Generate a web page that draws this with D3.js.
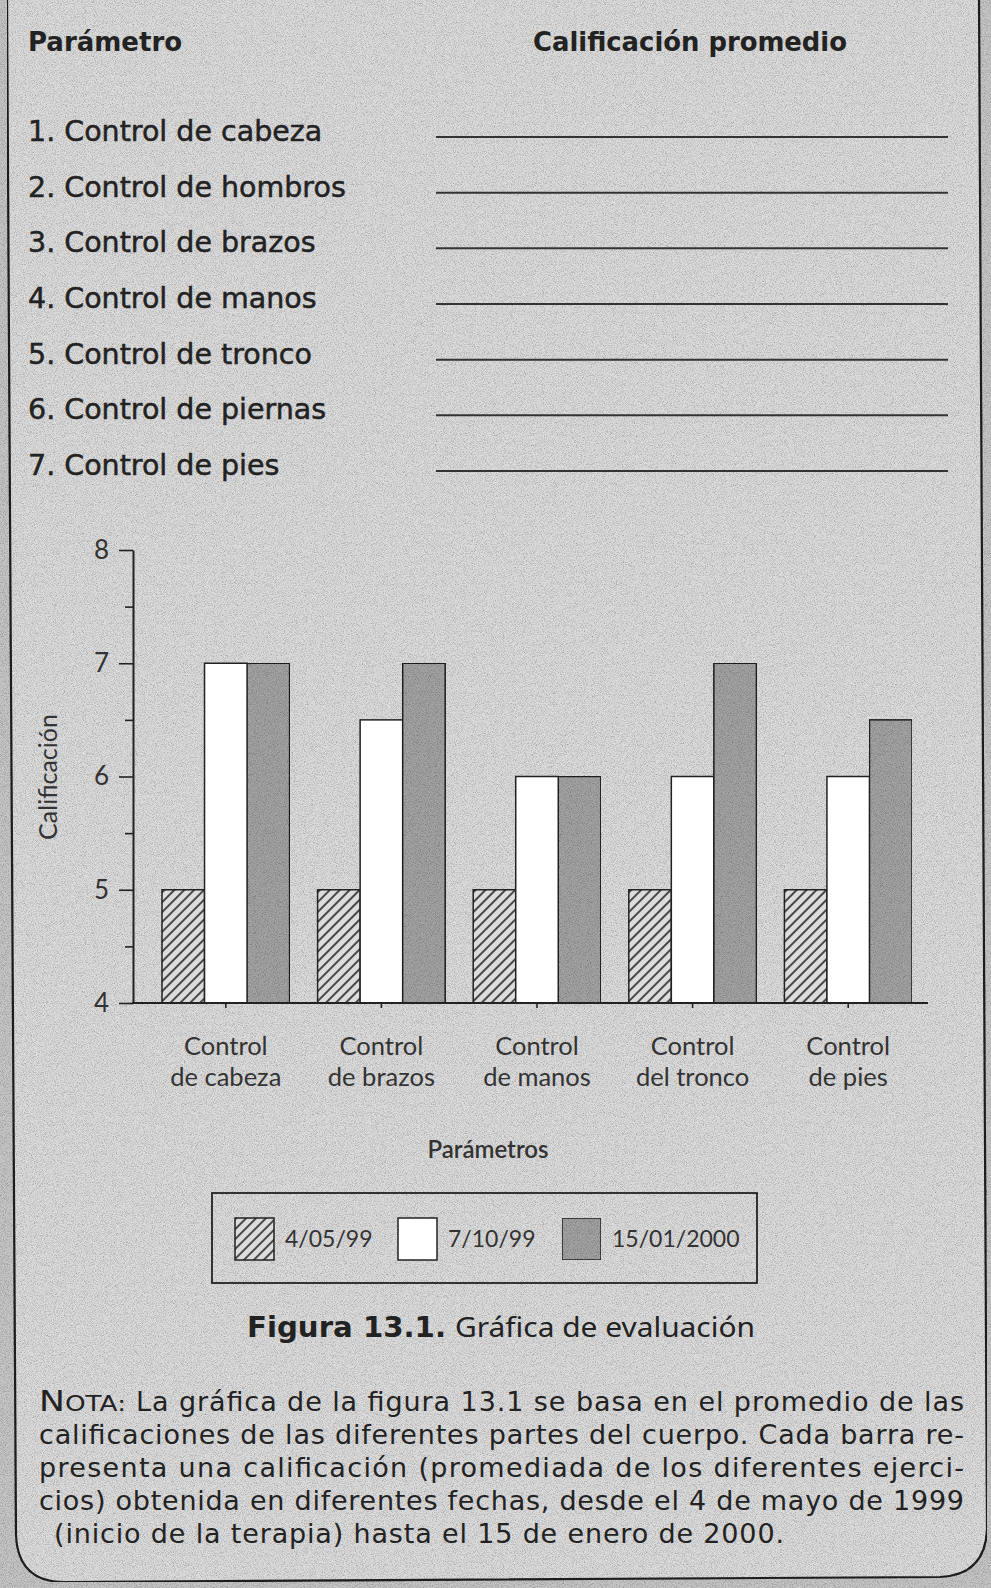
<!DOCTYPE html>
<html>
<head>
<meta charset="utf-8">
<script src="https://cdn.jsdelivr.net/npm/d3@7"></script>
<style>
  html, body { margin: 0; padding: 0; background: #cbcbcb; }
  svg { display: block; }
</style>
</head>
<body>
<svg id="chart" width="991" height="1588"></svg>
<script>
// data
const params = [
  "1. Control de cabeza",
  "2. Control de hombros",
  "3. Control de brazos",
  "4. Control de manos",
  "5. Control de tronco",
  "6. Control de piernas",
  "7. Control de pies"
];
const categories = ["Control de cabeza", "Control de brazos", "Control de manos", "Control del tronco", "Control de pies"];
const series = ["4/05/99", "7/10/99", "15/01/2000"];
const may99 = [5, 5, 5, 5, 5];
const oct99 = [7, 6.5, 6, 6, 6];
const jan00 = [7, 7, 6, 7, 6.5];
const yTicks = [4, 5, 6, 7, 8];
const yMinor = [4.5, 5.5, 6.5, 7.5];
const notaLines = [
  "La gráfica de la figura 13.1 se basa en el promedio de las",
  "calificaciones de las diferentes partes del cuerpo. Cada barra re-",
  "presenta una calificación (promediada de los diferentes ejerci-",
  "cios) obtenida en diferentes fechas, desde el 4 de mayo de 1999",
  "(inicio de la terapia) hasta el 15 de enero de 2000."
];
// where each note line starts and how wide it runs (justified block)
const notaX = [136, 39, 39, 39, 54];
const notaW = [828, 925, 925, 925, 730];

const ink = '#222';
const paper = '#dcdcdc';
const comic = "'DejaVu Sans', sans-serif";
const gill = "Lato, 'Open Sans', sans-serif";

const svg = d3.select('#chart');
const defs = svg.append('defs');

// paper grain
const grain = defs.append('filter').attr('id', 'grain')
  .attr('x', 0).attr('y', 0).attr('width', '100%').attr('height', '100%');
grain.append('feTurbulence').attr('type', 'fractalNoise')
  .attr('baseFrequency', 1.1).attr('numOctaves', 2).attr('seed', 7).attr('result', 't');
grain.append('feColorMatrix').attr('in', 't').attr('type', 'matrix')
  .attr('values', '0 0 0 0 0  0 0 0 0 0  0 0 0 0 0  1.1 0 0 0 -0.45').attr('result', 'n');
grain.append('feComposite').attr('in', 'n').attr('in2', 'SourceGraphic')
  .attr('operator', 'in').attr('result', 'nc');
const merge = grain.append('feMerge');
merge.append('feMergeNode').attr('in', 'SourceGraphic');
merge.append('feMergeNode').attr('in', 'nc');

// hatch for the first date
const hatch = defs.append('pattern').attr('id', 'hatch')
  .attr('patternUnits', 'userSpaceOnUse')
  .attr('width', 7).attr('height', 7)
  .attr('patternTransform', 'rotate(45)');
hatch.append('rect').attr('width', 7).attr('height', 7).attr('fill', paper);
hatch.append('line').attr('x1', 1).attr('x2', 1).attr('y1', 0).attr('y2', 7)
  .attr('stroke', ink).attr('stroke-width', 1.6);

const fills = { '4/05/99': 'url(#hatch)', '7/10/99': '#ffffff', '15/01/2000': '#a3a3a3' };

// page + frame
svg.append('rect').attr('width', 991).attr('height', 1588).attr('fill', '#c6c6c6')
  .attr('filter', 'url(#grain)');
svg.append('path')
  .attr('d', 'M7,-2 L16,1535 Q18,1582 64,1582 L940,1577 Q985,1575 987,1530 L979,-2')
  .attr('fill', paper)
  .attr('filter', 'url(#grain)')
  .attr('stroke', ink).attr('stroke-width', 2.2);

// header table
svg.append('text').attr('x', 28).attr('y', 51)
  .attr('font-family', comic).attr('font-weight', 'bold').attr('font-size', 26)
  .attr('fill', ink).text('Parámetro');
svg.append('text').attr('x', 533).attr('y', 51)
  .attr('font-family', comic).attr('font-weight', 'bold').attr('font-size', 26)
  .attr('textLength', 314).attr('lengthAdjust', 'spacingAndGlyphs')
  .attr('fill', ink).text('Calificación promedio');

const rowY = d3.scaleLinear().domain([0, 6]).range([141, 475]);
svg.append('g').selectAll('text').data(params).join('text')
  .attr('x', 28).attr('y', (d, i) => rowY(i))
  .attr('font-family', comic).attr('font-size', 28.5).attr('fill', ink)
  .attr('stroke', ink).attr('stroke-width', 0.5)
  .text(d => d);
svg.append('g').selectAll('line').data(params).join('line')
  .attr('x1', 436).attr('x2', 948)
  .attr('y1', (d, i) => rowY(i) - 4).attr('y2', (d, i) => rowY(i) - 4)
  .attr('stroke', '#333').attr('stroke-width', 2);

// chart
const y = d3.scaleLinear().domain([4, 8]).range([1003, 550]);
const x = d3.scaleBand().domain(categories).range([148, 926])
  .paddingInner(0.18).paddingOuter(0.09);
const xs = d3.scaleBand().domain(series).range([0, x.bandwidth()]);

const rows = categories.map((c, i) => ({
  cat: c,
  vals: [
    { s: series[0], v: may99[i] },
    { s: series[1], v: oct99[i] },
    { s: series[2], v: jan00[i] }
  ]
}));

const groups = svg.append('g').selectAll('g').data(rows).join('g')
  .attr('transform', d => `translate(${x(d.cat)},0)`);
groups.selectAll('rect').data(d => d.vals).join('rect')
  .attr('x', d => xs(d.s))
  .attr('y', d => y(d.v))
  .attr('width', xs.bandwidth())
  .attr('height', d => y(4) - y(d.v))
  .attr('fill', d => fills[d.s])
  .attr('filter', d => d.s === '15/01/2000' ? 'url(#grain)' : null)
  .attr('stroke', ink).attr('stroke-width', 1.5);

// y axis
const yAxis = svg.append('g').attr('transform', 'translate(133,0)')
  .call(d3.axisLeft(y).tickValues(yTicks).tickFormat(d3.format('d'))
    .tickSize(14).tickPadding(10).tickSizeOuter(0));
yAxis.select('.domain').attr('stroke', ink).attr('stroke-width', 2);
yAxis.selectAll('.tick line').attr('stroke', ink).attr('stroke-width', 1.6);
yAxis.selectAll('.tick text').attr('font-family', gill).attr('font-size', 26).attr('fill', '#333');
svg.append('g').attr('transform', 'translate(133,0)')
  .call(d3.axisLeft(y).tickValues(yMinor).tickFormat('').tickSize(8).tickSizeOuter(0))
  .call(g => g.select('.domain').remove())
  .selectAll('.tick line').attr('stroke', ink).attr('stroke-width', 1.6);

// x axis
const xAxis = svg.append('g').attr('transform', `translate(0,${y(4)})`)
  .call(d3.axisBottom(x).tickSize(5).tickFormat(''));
xAxis.select('.domain').remove();
xAxis.selectAll('.tick line').attr('stroke', ink).attr('stroke-width', 1.6);
svg.append('line').attr('x1', 132).attr('x2', 928)
  .attr('y1', y(4)).attr('y2', y(4))
  .attr('stroke', ink).attr('stroke-width', 2);

const xLabels = svg.append('g').selectAll('text').data(categories).join('text')
  .attr('x', d => x(d) + x.bandwidth() / 2)
  .attr('text-anchor', 'middle')
  .attr('font-family', gill).attr('font-size', 25.5).attr('fill', '#333');
xLabels.append('tspan').attr('x', d => x(d) + x.bandwidth() / 2).attr('y', 1055)
  .text(d => d.split(' ')[0]);
xLabels.append('tspan').attr('x', d => x(d) + x.bandwidth() / 2).attr('y', 1086)
  .text(d => d.split(' ').slice(1).join(' '));

svg.append('text').attr('x', 488).attr('y', 1158).attr('text-anchor', 'middle')
  .attr('font-family', gill).attr('font-weight', 600).attr('font-size', 24)
  .attr('fill', '#333').text('Parámetros');

svg.append('text')
  .attr('transform', 'translate(57,777) rotate(-90)')
  .attr('text-anchor', 'middle')
  .attr('font-family', gill).attr('font-size', 25).attr('fill', '#333')
  .text('Calificación');

// legend
svg.append('rect').attr('x', 212).attr('y', 1193).attr('width', 545).attr('height', 90)
  .attr('fill', 'none').attr('stroke', ink).attr('stroke-width', 1.8);
const legX = [235, 398, 562];
const leg = svg.append('g').selectAll('g').data(series).join('g')
  .attr('transform', (d, i) => `translate(${legX[i]},1218)`);
leg.append('rect').attr('width', 39).attr('height', 42)
  .attr('fill', d => fills[d])
  .attr('filter', d => d === '15/01/2000' ? 'url(#grain)' : null)
  .attr('stroke', ink).attr('stroke-width', 1.5);
leg.append('text').attr('x', 50).attr('y', 29)
  .attr('font-family', gill).attr('font-size', 23).attr('fill', '#333')
  .text(d => d);

// caption
svg.append('text').attr('x', 247).attr('y', 1337)
  .attr('font-family', "'DejaVu Sans', sans-serif").attr('font-weight', 'bold')
  .attr('font-size', 28).attr('fill', ink)
  .attr('textLength', 199).attr('lengthAdjust', 'spacingAndGlyphs')
  .text('Figura 13.1.');
svg.append('text').attr('x', 455).attr('y', 1337)
  .attr('font-family', "'Noto Sans', sans-serif")
  .attr('font-size', 28).attr('fill', ink)
  .attr('textLength', 300).attr('lengthAdjust', 'spacingAndGlyphs')
  .text('Gráfica de evaluación');

// note
const nota = svg.append('g').attr('font-family', comic).attr('fill', ink);
const notaY = d3.scaleLinear().domain([0, 4]).range([1411, 1543]);
nota.selectAll('text').data(notaLines).join('text')
  .attr('x', (d, i) => notaX[i])
  .attr('y', (d, i) => notaY(i))
  .attr('font-size', 27)
  .attr('textLength', (d, i) => notaW[i])
  .attr('lengthAdjust', 'spacing')
  .text(d => d);
const nt = nota.append('text').attr('x', 39).attr('y', notaY(0)).attr('font-size', 29)
  .attr('textLength', 87).attr('lengthAdjust', 'spacingAndGlyphs');
nt.append('tspan').text('N');
nt.append('tspan').attr('font-size', 22).text('OTA:');
</script>
</body>
</html>
